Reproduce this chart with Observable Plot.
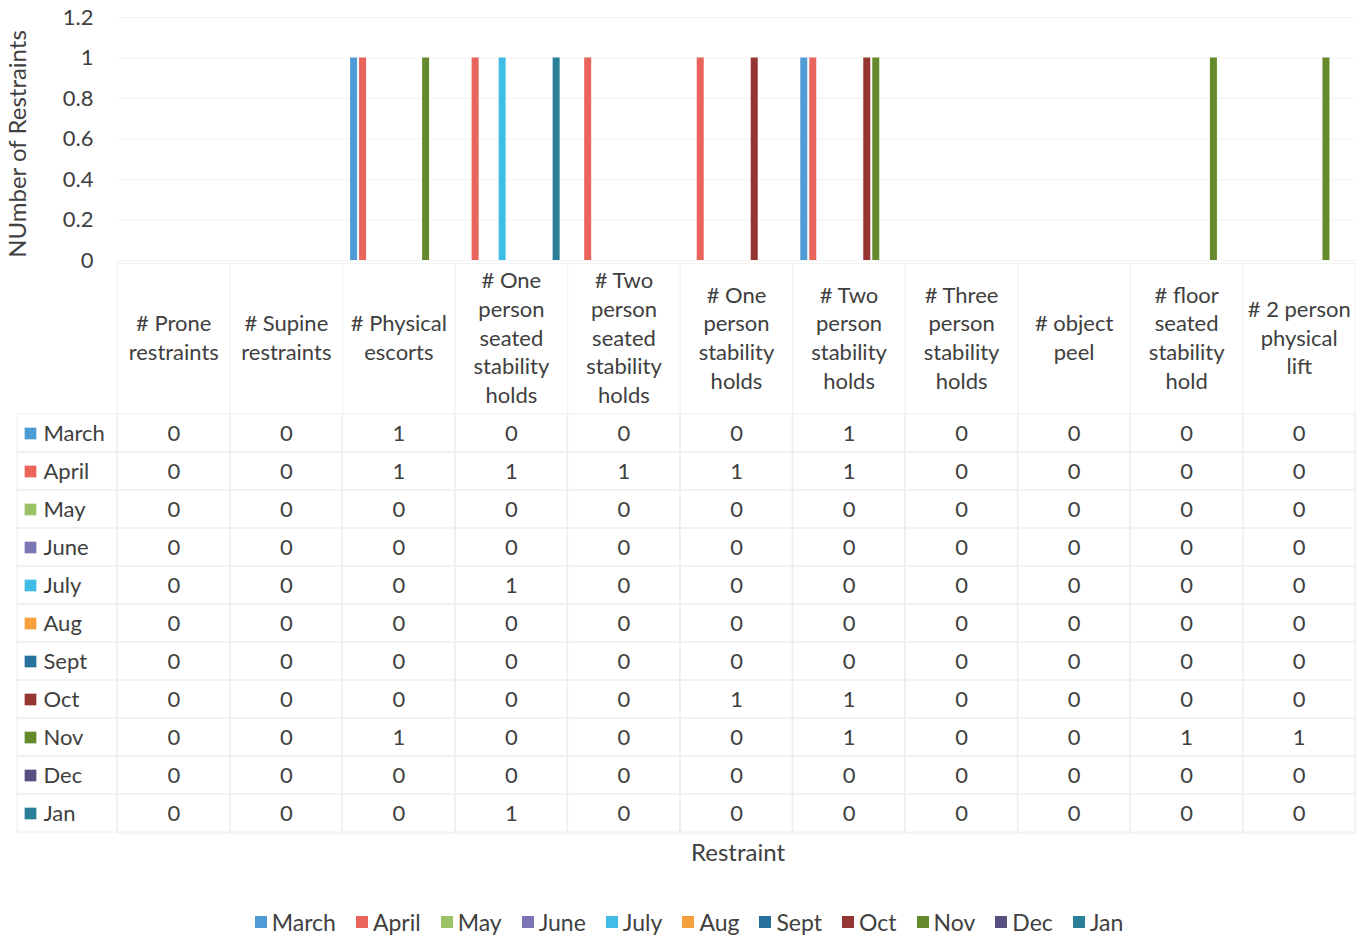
<!DOCTYPE html>
<html>
<head>
<meta charset="utf-8">
<script src="https://cdn.jsdelivr.net/npm/d3@7"></script>
<script src="https://cdn.jsdelivr.net/npm/@observablehq/plot@0.6"></script>
<style>
  html, body { margin: 0; padding: 0; background: #fff; }
  body { width: 1367px; font-family: Lato, "Open Sans", sans-serif; color: #404040; }
  svg { display: block; overflow: visible; }
  #chart { position: relative; z-index: 2; }
  #table { position: relative; z-index: 1; }
  #xtitle { width: 1367px; height: 34px; line-height: 34px; font-size: 24px; color: #404040; }
  #xtitle span { position: relative; left: 738px; display: inline-block; transform: translateX(-50%); }
  #legend { width: 1336px; display: flex; justify-content: center; margin-top: 36px; padding-left: 31px; }
  .lg-swatch { margin-right: 20px !important; }
  .lg-swatch > svg { margin-right: 5px !important; }
</style>
</head>
<body>
<div id="chart"></div>
<div id="table"></div>
<div id="xtitle"><span>Restraint</span></div>
<div id="legend"></div>
<script>
// ---- data ----
const categories = [
  "# Prone restraints", "# Supine restraints", "# Physical escorts",
  "# One person seated stability holds", "# Two person seated stability holds",
  "# One person stability holds", "# Two person stability holds",
  "# Three person stability holds", "# object peel",
  "# floor seated stability hold", "# 2 person physical lift"
];
const headerLabels = [
  "# Prone\nrestraints", "# Supine\nrestraints", "# Physical\nescorts",
  "# One\nperson\nseated\nstability\nholds", "# Two\nperson\nseated\nstability\nholds",
  "# One\nperson\nstability\nholds", "# Two\nperson\nstability\nholds",
  "# Three\nperson\nstability\nholds", "# object\npeel",
  "# floor\nseated\nstability\nhold", "# 2 person\nphysical\nlift"
];
const months = ["March", "April", "May", "June", "July", "Aug", "Sept", "Oct", "Nov", "Dec", "Jan"];
const monthColors = ["#4f9bd6", "#e9645b", "#9cc267", "#7b77b5", "#3fbde6", "#f5a03d",
                     "#26709c", "#953632", "#648a2b", "#55507f", "#2b7e97"];

const march = [0, 0, 1, 0, 0, 0, 1, 0, 0, 0, 0];
const april = [0, 0, 1, 1, 1, 1, 1, 0, 0, 0, 0];
const may   = [0, 0, 0, 0, 0, 0, 0, 0, 0, 0, 0];
const june  = [0, 0, 0, 0, 0, 0, 0, 0, 0, 0, 0];
const july  = [0, 0, 0, 1, 0, 0, 0, 0, 0, 0, 0];
const aug   = [0, 0, 0, 0, 0, 0, 0, 0, 0, 0, 0];
const sept  = [0, 0, 0, 0, 0, 0, 0, 0, 0, 0, 0];
const oct   = [0, 0, 0, 0, 0, 1, 1, 0, 0, 0, 0];
const nov   = [0, 0, 1, 0, 0, 0, 1, 0, 0, 1, 1];
const dec   = [0, 0, 0, 0, 0, 0, 0, 0, 0, 0, 0];
const jan   = [0, 0, 0, 1, 0, 0, 0, 0, 0, 0, 0];
const seriesValues = [march, april, may, june, july, aug, sept, oct, nov, dec, jan];

const yTicks = [0, 0.2, 0.4, 0.6, 0.8, 1, 1.2];
const yTickLabels = ["0", "0.2", "0.4", "0.6", "0.8", "1", "1.2"];
const yTitle = "NUmber of Restraints";

// ---- derived table ----
const rows = [];
months.forEach((m, i) => categories.forEach((c, j) => rows.push({month: m, cat: c, value: seriesValues[i][j]})));
const labelRows = months.map(m => ({month: m, cat: categories[0]}));
const headerOf = new Map(categories.map((c, i) => [c, headerLabels[i]]));

const font = "Lato, 'Open Sans', sans-serif";
const colorScale = {domain: months, range: monthColors};
const fxScale = {domain: categories, padding: 0, round: false};

// ---- bar chart ----
const chart = Plot.plot({
  width: 1367, height: 263,
  marginLeft: 117, marginRight: 12, marginTop: 17, marginBottom: 3,
  style: {fontFamily: font, color: "#404040", fontSize: "22px"},
  fx: {...fxScale, axis: null},
  x: {domain: months, paddingInner: 0.2, paddingOuter: 0.78, axis: null},
  y: {domain: [0, 1.2]},
  color: colorScale,
  marks: [
    Plot.gridY(yTicks, {stroke: "#f3f3f3", strokeOpacity: 1}),
    Plot.axisY(yTicks, {tickSize: 0, tickPadding: 24, fontSize: 22,
      tickFormat: d => yTickLabels[yTicks.indexOf(d)], label: null}),
    Plot.text([{cat: categories[0], t: yTitle}], {fx: "cat", text: "t", frameAnchor: "left",
      textAnchor: "middle", rotate: -90, dx: -99, dy: 5, fontSize: 24, fill: "#404040"}),
    Plot.barY(rows, {fx: "cat", x: "month", y: "value", fill: "month"})
  ]
});
document.getElementById("chart").appendChild(chart);

// ---- data table ----
const table = Plot.plot({
  width: 1367, height: 572,
  marginLeft: 117, marginRight: 12, marginTop: 150, marginBottom: 2,
  style: {fontFamily: font, color: "#404040", fontSize: "22px"},
  fx: fxScale,
  y: {domain: months, padding: 0},
  color: colorScale,
  marks: [
    Plot.frame({stroke: "#f2f2f2", insetTop: -150}),
    Plot.cell(rows, {fx: "cat", y: "month", fill: "none", stroke: "#eeeeee"}),
    Plot.cell(labelRows, {fx: "cat", y: "month", fill: "none", stroke: "#eeeeee", insetLeft: -100, insetRight: 112.5}),
    Plot.axisFx({anchor: "top", tickSize: 0, tickPadding: 77, lineAnchor: "middle", lineHeight: 1.3,
      fontSize: 22, tickFormat: c => headerOf.get(c), label: null}),
    Plot.axisY({anchor: "left", tickSize: 0, tickPadding: 74, textAnchor: "start", fontSize: 22, label: null}),
    Plot.dot(labelRows, {fx: "cat", y: "month", fill: "month", symbol: "square", r: 6.6, frameAnchor: "left", dx: -87}),
    Plot.text(rows, {fx: "cat", y: "month", text: d => String(d.value), fontSize: 22, fill: "#404040"})
  ]
});
document.getElementById("table").appendChild(table);

// ---- legend ----
const legend = Plot.legend({
  color: {...colorScale, type: "ordinal"},
  swatchSize: 12,
  className: "lg",
  style: {fontFamily: font, fontSize: "23px", color: "#404040"}
});
document.getElementById("legend").appendChild(legend);
</script>
</body>
</html>
